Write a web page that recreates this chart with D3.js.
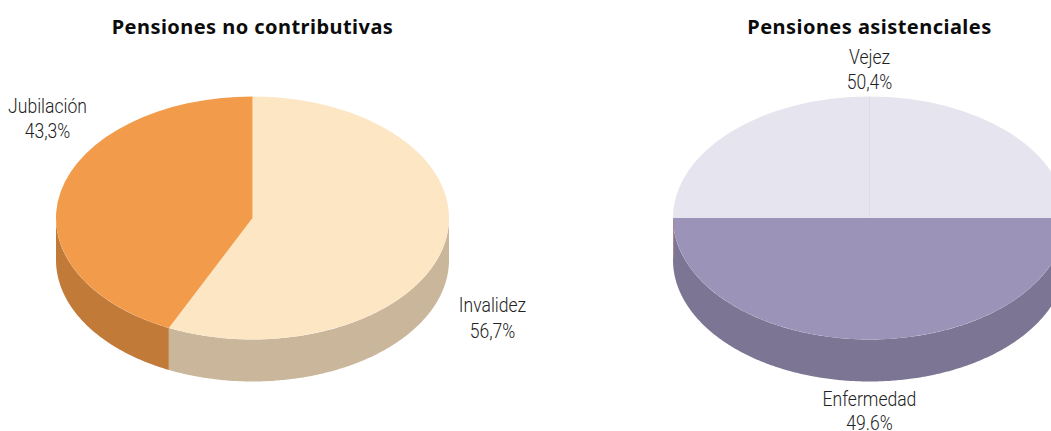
<!DOCTYPE html>
<html>
<head>
<meta charset="utf-8">
<script src="https://cdn.jsdelivr.net/npm/d3@7"></script>
<style>
	body { margin: 0; background: #fff; }
	svg { display: block; }
	.title { font-family: "Noto Sans", sans-serif; font-weight: 700; font-size: 20px; letter-spacing: 0.45px; fill: #0c0c0c; text-anchor: middle; }
	.label { font-family: Roboto, sans-serif; font-weight: 300; font-size: 19.5px; fill: #222; text-anchor: middle; }
</style>
</head>
<body>
<svg width="1051" height="431"></svg>
<script>
// the slices as drawn in the picture, clockwise from 12 o'clock. they don't
// follow the printed percentages exactly, so the labels are kept apart
const leftNames = ["Invalidez", "Jubilación"];
const leftDrawn = [57, 43];
const leftColors = ["#fce6c4", "#f29b4b"];
const leftWalls = ["#cab79b", "#c27a39"];
const leftLabels = ["56,7%", "43,3%"];

const rightNames = ["Vejez", "Enfermedad", "Vejez"];
const rightDrawn = [25, 50, 25];
const rightColors = ["#e6e4ef", "#9c94b8", "#e6e4ef"];
const rightWalls = ["#e6e4ef", "#7c7694", "#e6e4ef"];
const rightLabels = ["50,4%", "49.6%"];

let svg = d3.select("svg");

const rx = 196.5,
	ry = 121.5,
	depth = 42;

let pie = d3.pie().sort(null).value(d => d);
let arc = d3.arc().innerRadius(0).outerRadius(rx);

function drawPie(cx, cy, values, colors, walls) {
	let g = svg.append("g");
	let slices = pie(values);

	// side wall, only the part of the rim facing us (90deg to 270deg)
	let wall = d3.area()
		.x(a => cx + rx * Math.sin(a))
		.y0(a => cy - ry * Math.cos(a))
		.y1(a => cy - ry * Math.cos(a) + depth);

	slices.forEach((s, i) => {
		let from = Math.max(s.startAngle, Math.PI / 2),
			to = Math.min(s.endAngle, 3 * Math.PI / 2);
		if (from >= to) return;
		let angles = d3.range(from, to, 0.01).concat([to]);
		g.append("path")
			.attr("d", wall(angles))
			.attr("fill", walls[i]);
	});

	g.append("g")
		.attr("transform", "translate(" + cx + "," + cy + ") scale(1," + ry / rx + ")")
		.selectAll("path")
		.data(slices)
		.enter().append("path")
		.attr("d", arc)
		.attr("fill", (d, i) => colors[i]);

	return slices;
}

function addTitle(x, y, str) {
	svg.append("text").attr("class", "title").attr("x", x).attr("y", y).text(str);
}

// the label face is tall and condensed, so squeeze Roboto Light sideways
function addLabel(x, y, str) {
	svg.append("text")
		.attr("class", "label")
		.attr("transform", "translate(" + x + "," + y + ") scale(0.9,1)")
		.text(str);
}

const leftCx = 252.5, rightCx = 869.5, cy = 218;

drawPie(leftCx, cy, leftDrawn, leftColors, leftWalls);
let rightSlices = drawPie(rightCx, cy, rightDrawn, rightColors, rightWalls);

// faint seam inside the Vejez half
svg.append("line")
	.attr("x1", rightCx)
	.attr("y1", cy)
	.attr("x2", rightCx + rx * Math.sin(rightSlices[0].startAngle))
	.attr("y2", cy - ry * Math.cos(rightSlices[0].startAngle))
	.attr("stroke", "#dedce9")
	.attr("stroke-width", 1);

// thin brownish sliver on the left rim of the right pie
svg.append("line")
	.attr("x1", rightCx - rx + 0.5)
	.attr("y1", cy + 2)
	.attr("x2", rightCx - rx + 0.5)
	.attr("y2", cy + depth - 2)
	.attr("stroke", "#a58c8e")
	.attr("stroke-width", 1);

addTitle(leftCx, 34, "Pensiones no contributivas");
addTitle(rightCx, 34, "Pensiones asistenciales");

addLabel(47.5, 113, leftNames[1]);
addLabel(47.5, 138, leftLabels[1]);
addLabel(492.5, 312, leftNames[0]);
addLabel(492.5, 338, leftLabels[0]);
addLabel(869.5, 64, rightNames[0]);
addLabel(869.5, 89, rightLabels[0]);
addLabel(869.5, 406, rightNames[1]);
addLabel(869.5, 430, rightLabels[1]);
</script>
</body>
</html>
